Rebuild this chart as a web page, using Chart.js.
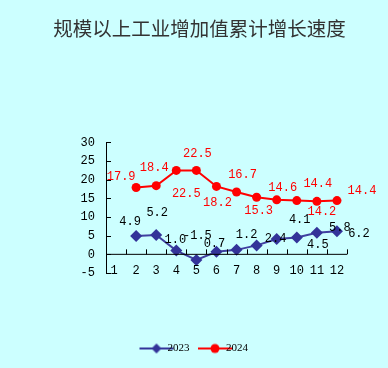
<!DOCTYPE html>
<html lang="zh-CN">
<head>
<meta charset="UTF-8">
<title>规模以上工业增加值累计增长速度</title>
<script src="https://cdn.jsdelivr.net/npm/chart.js"></script>
<style>
    html, body { margin: 0; padding: 0; background: #ccffff; }
    #wrap { position: relative; width: 388px; height: 368px; }
</style>
</head>
<body>
<div id="wrap"><canvas id="chart"></canvas></div>
<script>
// data
const months = [2, 3, 4, 5, 6, 7, 8, 9, 10, 11, 12];
const xTicks = [1, 2, 3, 4, 5, 6, 7, 8, 9, 10, 11, 12];
const yTicks = [-5, 0, 5, 10, 15, 20, 25, 30];
const values2023 = [4.9, 5.2, 1.0, -1.5, 0.7, 1.2, 2.4, 4.1, 4.5, 5.8, 6.2];
const values2024 = [17.9, 18.4, 22.5, 22.5, 18.2, 16.7, 15.3, 14.6, 14.4, 14.2, 14.4];

// label offsets from each point (px), as placed in the original
const off2023 = [[-6,-14],[1,-22],[-1,-11],[1,-24],[-2,-8],[10,-15],[19,-7],[23,-19],[21,7],[23,-5],[22,3]];
const off2024 = [[-15,-11],[-2,-18],[10,23],[1,-17],[1,16],[6,-17],[2,14],[6,-12],[21,-17],[5,10],[25,-10]];

const BLUE = '#333399';
const RED = '#ff0000';

// legend swatch: line with marker on it
function swatch(color, style) {
    const c = document.createElement('canvas');
    c.width = 36; c.height = 12;
    const g = c.getContext('2d');
    g.strokeStyle = color; g.lineWidth = 2;
    g.beginPath(); g.moveTo(1, 6); g.lineTo(35, 6); g.stroke();
    g.fillStyle = color;
    g.beginPath();
    if (style === 'rectRot') {
        g.moveTo(18, 1); g.lineTo(23, 6); g.lineTo(18, 11); g.lineTo(13, 6);
    } else {
        g.arc(18, 6, 4.5, 0, Math.PI * 2);
    }
    g.closePath(); g.fill();
    return c;
}

const axisMarks = {
    id: 'axisMarks',
    afterDraw(chart) {
        const ctx = chart.ctx;
        const xs = chart.scales.x, ys = chart.scales.y;
        const y0 = ys.getPixelForValue(0);
        ctx.save();
        ctx.strokeStyle = '#000';
        ctx.lineWidth = 1;
        ctx.beginPath();
        // x axis line at zero
        ctx.moveTo(xs.left, y0); ctx.lineTo(xs.right, y0);
        // category boundary ticks pointing up
        for (let i = 1.5; i <= 12.5; i++) {
            const px = Math.round(xs.getPixelForValue(i)) + 0.5;
            ctx.moveTo(px, y0); ctx.lineTo(px, y0 - 5);
        }
        // y ticks pointing inward
        yTicks.forEach(v => {
            const py = Math.round(ys.getPixelForValue(v)) + 0.5;
            ctx.moveTo(xs.left, py); ctx.lineTo(xs.left + 5, py);
        });
        ctx.stroke();

        ctx.font = '12px "Liberation Mono"';
        ctx.textAlign = 'center';
        ctx.textBaseline = 'middle';
        // month labels sit level with the bottom of the y axis
        ctx.fillStyle = '#000';
        const yl = ys.getPixelForValue(yTicks[0]) - 2;
        xTicks.forEach(v => {
            ctx.fillText(String(v), xs.getPixelForValue(v) + (v === 1 ? -2 : 0), yl);
        });

        // value labels
        [[values2023, off2023, '#000', 0], [values2024, off2024, RED, 1]].forEach(([vals, offs, col, di]) => {
            const meta = chart.getDatasetMeta(di);
            ctx.fillStyle = col;
            meta.data.forEach((pt, i) => {
                ctx.fillText(vals[i].toFixed(1), pt.x + offs[i][0], pt.y + offs[i][1]);
            });
        });
        ctx.restore();
    }
};

new Chart(document.getElementById('chart'), {
    type: 'line',
    data: {
        datasets: [{
            label: '2023',
            data: months.map((m, i) => ({ x: m, y: values2023[i] })),
            borderColor: '#4040a0',
            backgroundColor: BLUE,
            borderWidth: 2,
            pointStyle: 'rectRot',
            pointRadius: 6,
            pointBorderWidth: 0,
            pointBackgroundColor: BLUE
        }, {
            label: '2024',
            data: months.map((m, i) => ({ x: m, y: values2024[i] })),
            borderColor: RED,
            backgroundColor: RED,
            borderWidth: 2,
            pointStyle: 'circle',
            pointRadius: 4.5,
            pointBorderWidth: 0,
            pointBackgroundColor: RED
        }]
    },
    options: {
        responsive: true,
        maintainAspectRatio: false,
        animation: false,
        layout: { padding: { left: 52, right: 41, top: 0, bottom: 4 } },
        scales: {
            x: {
                type: 'linear',
                min: 0.5,
                max: 12.5,
                afterBuildTicks: s => { s.ticks = xTicks.map(v => ({ value: v })); },
                afterFit: s => { s.height = 50; },
                grid: { display: false, drawTicks: false },
                border: { display: false },
                ticks: { display: false }
            },
            y: {
                min: -5,
                max: 30,
                afterBuildTicks: s => { s.ticks = yTicks.map(v => ({ value: v })); },
                afterFit: s => { s.width = 54; },
                grid: { display: false, drawTicks: false },
                border: { display: true, color: '#000', width: 1 },
                ticks: {
                    padding: 11,
                    color: '#000',
                    font: { family: 'Liberation Mono', size: 12 }
                }
            }
        },
        plugins: {
            title: {
                display: true,
                text: '规模以上工业增加值累计增长速度',
                color: '#333',
                font: { family: '"Noto Sans CJK SC"', size: 19.5, weight: 'normal' },
                padding: { top: 17, bottom: 102 }
            },
            legend: {
                position: 'bottom',
                labels: {
                    usePointStyle: true,
                    color: '#000',
                    font: { family: 'Liberation Serif', size: 11 },
                    padding: 20,
                    generateLabels: chart => chart.data.datasets.map((ds, i) => ({
                        text: ds.label,
                        datasetIndex: i,
                        fontColor: '#000',
                        pointStyle: swatch(ds.backgroundColor, ds.pointStyle),
                        lineWidth: 0,
                        strokeStyle: 'transparent',
                        fillStyle: ds.backgroundColor
                    }))
                }
            },
            tooltip: { enabled: false }
        }
    },
    plugins: [axisMarks]
});
</script>
</body>
</html>
